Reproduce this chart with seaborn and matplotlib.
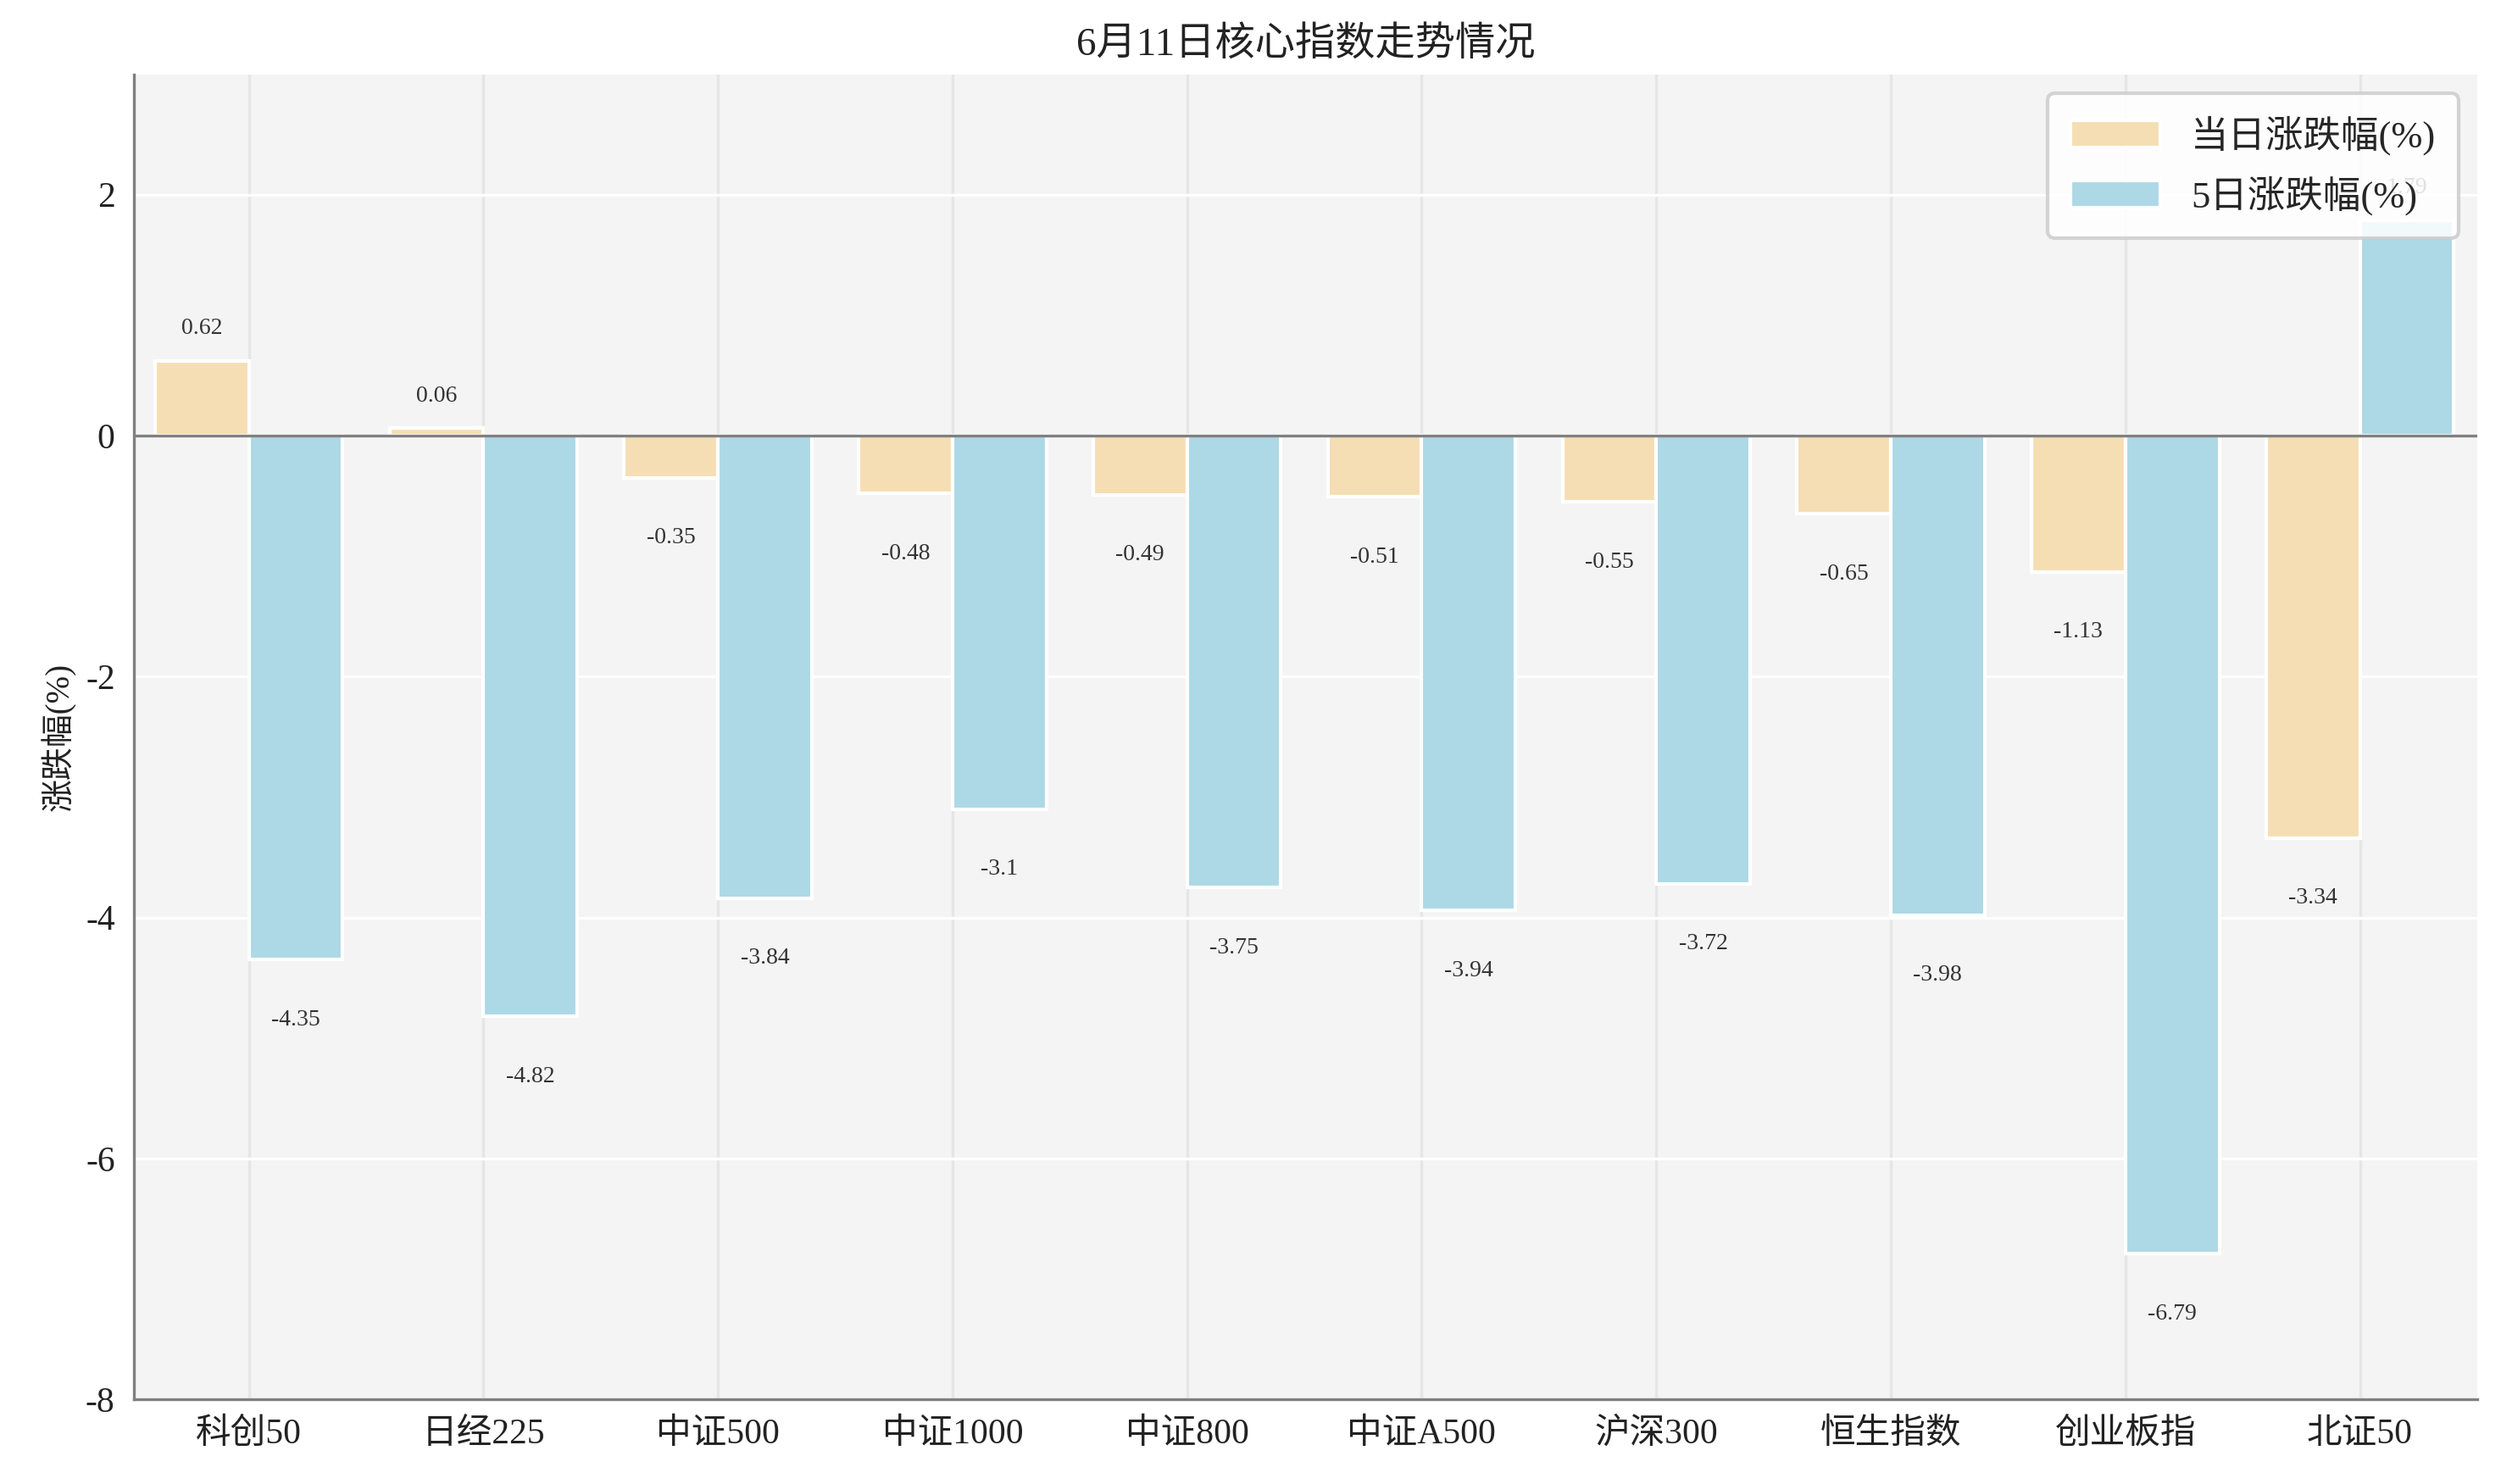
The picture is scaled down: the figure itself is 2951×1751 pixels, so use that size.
import pandas as pd
import numpy as np
import matplotlib.pyplot as plt
import seaborn as sns

# --- data ---
indices = ['科创50', '日经225', '中证500', '中证1000', '中证800',
           '中证A500', '沪深300', '恒生指数', '创业板指', '北证50']
day_change = [0.62, 0.06, -0.35, -0.48, -0.49, -0.51, -0.55, -0.65, -1.13, -3.34]
five_day_change = [-4.35, -4.82, -3.84, -3.10, -3.75, -3.94, -3.72, -3.98, -6.79, 1.79]
series_names = ['当日涨跌幅(%)', '5日涨跌幅(%)']
colors = ['#F5DEB3', '#ADD8E6']

df = pd.DataFrame({
    '指数': indices * 2,
    '涨跌幅': day_change + five_day_change,
    '类型': [series_names[0]] * len(indices) + [series_names[1]] * len(indices),
})

sns.set_style('white')
fonts = ['Liberation Serif', 'Noto Sans CJK SC', 'DejaVu Sans']
plt.rcParams['font.family'] = fonts
plt.rcParams['axes.unicode_minus'] = False

fig, ax = plt.subplots(figsize=(14.755, 8.755), dpi=200)
fig.subplots_adjust(left=0.0535, right=0.9905, top=0.950, bottom=0.057)
ax.set_facecolor('#F4F4F4')

sns.barplot(data=df, x='指数', y='涨跌幅', hue='类型', palette=colors,
            saturation=1, width=0.8, edgecolor='white', linewidth=1.5,
            ax=ax, zorder=2)

# value labels
for cont in ax.containers:
    for bar in cont:
        v = bar.get_height()
        xc = bar.get_x() + bar.get_width() / 2
        y = v + 0.27 if v >= 0 else v - 0.5
        ax.text(xc, y, f'{v:g}', ha='center', va='center', fontsize=10,
                color='#333333', zorder=3)

ax.axhline(0, color='#808080', linewidth=1.2, zorder=2.5)
ax.set_ylim(-8, 3)
ax.set_xlim(-0.49, 9.5)
ax.set_yticks([-8, -6, -4, -2, 0, 2])
ax.grid(axis='y', color='white', linewidth=1.2, zorder=0)
ax.grid(axis='x', color='#E6E6E6', linewidth=1.2, zorder=0)
ax.set_axisbelow(True)

for s in ['top', 'right']:
    ax.spines[s].set_visible(False)
for s in ['left', 'bottom']:
    ax.spines[s].set_color('#808080')
    ax.spines[s].set_linewidth(1.2)

ax.tick_params(axis='both', length=0, labelsize=15, pad=8, labelcolor='#222222')
ax.set_xlabel('')
ax.set_ylabel('涨跌幅(%)', fontsize=14, color='#222222')
ax.set_title('6月11日核心指数走势情况', fontsize=17, color='#222222', pad=8)

leg = ax.legend(loc='upper right', fontsize=16, frameon=True, fancybox=True,
                edgecolor='#CCCCCC', framealpha=0.85, handlelength=2.4,
                labelspacing=0.55, borderpad=0.6)
leg.get_frame().set_linewidth(1.5)
leg.set_zorder(5)

plt.savefig('out.png', dpi=200)
